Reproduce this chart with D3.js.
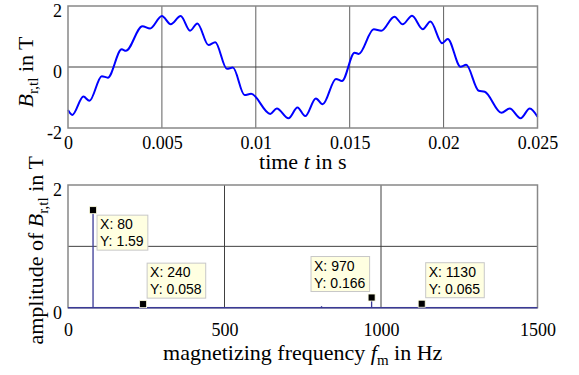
<!DOCTYPE html>
<html>
<head>
<meta charset="utf-8">
<script src="https://cdn.jsdelivr.net/npm/d3@7/dist/d3.min.js"></script>
<style>
  body { margin: 0; background: #fff; }
  svg text, svg .tick text { font-family: "Liberation Serif", "Times New Roman", serif !important; fill: #000; }
  svg .tip text { font-family: "Liberation Sans", Arial, sans-serif !important; }
</style>
</head>
<body>
<svg id="chart" width="579" height="375"></svg>
<script>
// waveform (time in s, flux density in T)
var timeS = [0, 0.00023, 0.00082, 0.00114, 0.0018, 0.00212, 0.00286, 0.00308, 0.00396, 0.00437,
  0.0050, 0.00547, 0.0060, 0.0065, 0.00689, 0.00748, 0.00784, 0.00846, 0.00878, 0.0094,
  0.00975, 0.01077, 0.01112, 0.01174, 0.01222, 0.01263, 0.0132, 0.01356, 0.01427, 0.01459,
  0.01526, 0.01548, 0.01628, 0.01668, 0.01738, 0.01782, 0.01832, 0.01889, 0.0193, 0.01992,
  0.02022, 0.0209, 0.0212, 0.02187, 0.02219, 0.02308, 0.02352, 0.0241, 0.02459, 0.025];
var fluxT = [-1.41, -1.57, -0.97, -1.11, -0.30, -0.35, 0.58, 0.53, 1.34, 1.26,
  1.67, 1.40, 1.67, 1.19, 1.43, 0.72, 0.81, -0.06, -0.02, -0.92,
  -0.88, -1.54, -1.36, -1.68, -1.33, -1.61, -1.03, -1.22, -0.39, -0.46,
  0.47, 0.43, 1.24, 1.19, 1.65, 1.40, 1.68, 1.24, 1.49, 0.78,
  0.92, 0.01, 0.07, -0.78, -0.81, -1.50, -1.36, -1.68, -1.36, -1.63];

var timeTicks = [0, 0.005, 0.01, 0.015, 0.02, 0.025];
var timeTickLabels = ["0", "0.005", "0.01", "0.015", "0.02", "0.025"];
var fluxTicks = [-2, 0, 2];
var fluxTickLabels = ["-2", "0", "2"];

// spectrum
var freqHz = [80, 240, 400, 810, 970, 1130];
var ampT = [1.59, 0.058, 0.01, 0.025, 0.166, 0.065];
var freqTicks = [0, 500, 1000, 1500];
var ampTicks = [0, 2];
var ampGrid = [1];

// data tips
var tipFreq = [80, 240, 970, 1130];
var tipAmp = [1.59, 0.058, 0.166, 0.065];
var tipAmpText = ["1.59", "0.058", "0.166", "0.065"];
var tipSide = ["right-below", "right-above", "left-above", "right-above"];

var svg = d3.select("#chart");
var left = 68, right = 537.5;
var serif = '"Liberation Serif", "Times New Roman", serif';

function styleTicks(ax, y, dy) {
  ax.select(".domain").remove();
  ax.attr("font-family", serif).attr("font-size", 18);
  var t = ax.selectAll("text").attr("font-size", 18);
  if (y != null) t.attr("y", y);
  t.attr("dy", dy);
}

// ---------- top plot ----------
var x1 = d3.scaleLinear().domain([0, 0.025]).range([left, right]);
var y1 = d3.scaleLinear().domain([-2, 2]).range([128, 6]);

var topG = svg.append("g");
topG.selectAll(".vgrid").data(timeTicks.slice(1, -1)).enter().append("line")
  .attr("x1", function(d) { return x1(d); }).attr("x2", function(d) { return x1(d); })
  .attr("y1", y1(2)).attr("y2", y1(-2))
  .attr("stroke", "#606060").attr("stroke-width", 1);
topG.append("line")
  .attr("x1", left).attr("x2", right).attr("y1", y1(0)).attr("y2", y1(0))
  .attr("stroke", "#404040").attr("stroke-width", 1);

var line = d3.line()
  .x(function(d, i) { return x1(timeS[i]); })
  .y(function(d) { return y1(d); })
  .curve(d3.curveMonotoneX);

topG.append("path")
  .attr("d", line(fluxT))
  .attr("fill", "none").attr("stroke", "#0000ff").attr("stroke-width", 2);

topG.append("rect")
  .attr("x", left).attr("y", y1(2)).attr("width", right - left).attr("height", y1(-2) - y1(2))
  .attr("fill", "none").attr("stroke", "#888").attr("stroke-width", 1.5);

var ax1 = topG.append("g").attr("transform", "translate(0," + y1(-2) + ")")
  .call(d3.axisBottom(x1).tickValues(timeTicks).tickSize(0).tickPadding(0)
    .tickFormat(function(d, i) { return timeTickLabels[i]; }));
styleTicks(ax1, 21, null);

var ay1 = topG.append("g").attr("transform", "translate(" + left + ",0)")
  .call(d3.axisLeft(y1).tickValues(fluxTicks).tickSize(0).tickPadding(6)
    .tickFormat(function(d, i) { return fluxTickLabels[i]; }));
styleTicks(ay1, null, "0.6em");

var xl1 = topG.append("text").attr("x", (left + right) / 2).attr("y", 169)
  .attr("text-anchor", "middle").attr("font-size", 22);
xl1.append("tspan").text("time ");
xl1.append("tspan").attr("font-style", "italic").text("t");
xl1.append("tspan").text(" in s");

var yl1 = topG.append("text").attr("transform", "translate(33," + (y1(0) + 5) + ") rotate(-90)")
  .attr("text-anchor", "middle").attr("font-size", 22);
yl1.append("tspan").attr("font-style", "italic").text("B");
yl1.append("tspan").attr("font-size", 15).attr("dy", 5).text("r,tl");
yl1.append("tspan").attr("dy", -5).text(" in T");

// ---------- bottom plot ----------
var x2 = d3.scaleLinear().domain([0, 1500]).range([left, right]);
var y2 = d3.scaleLinear().domain([0, 2]).range([307.7, 185]);

var bot = svg.append("g");
bot.selectAll(".vgrid").data(freqTicks.slice(1, -1)).enter().append("line")
  .attr("x1", function(d) { return x2(d); }).attr("x2", function(d) { return x2(d); })
  .attr("y1", y2(2)).attr("y2", y2(0))
  .attr("stroke", "#404040").attr("stroke-width", 1);
bot.selectAll(".hgrid").data(ampGrid).enter().append("line")
  .attr("x1", left).attr("x2", right)
  .attr("y1", function(d) { return y2(d); }).attr("y2", function(d) { return y2(d); })
  .attr("stroke", "#404040").attr("stroke-width", 1);

bot.append("rect")
  .attr("x", left).attr("y", y2(2)).attr("width", right - left).attr("height", y2(0) - y2(2))
  .attr("fill", "none").attr("stroke", "#888").attr("stroke-width", 1.5);

bot.append("line")
  .attr("x1", left).attr("x2", right).attr("y1", y2(0)).attr("y2", y2(0))
  .attr("stroke", "#3a3a96").attr("stroke-width", 1.5);

bot.selectAll(".stem").data(ampT).enter().append("line")
  .attr("x1", function(d, i) { return x2(freqHz[i]); })
  .attr("x2", function(d, i) { return x2(freqHz[i]); })
  .attr("y1", y2(0)).attr("y2", function(d) { return y2(d); })
  .attr("stroke", "#3a3a96").attr("stroke-width", 1.3);

var ax2 = bot.append("g").attr("transform", "translate(0," + y2(0) + ")")
  .call(d3.axisBottom(x2).tickValues(freqTicks).tickSize(0).tickPadding(0)
    .tickFormat(d3.format("d")));
styleTicks(ax2, 28, null);

var ay2 = bot.append("g").attr("transform", "translate(" + left + ",0)")
  .call(d3.axisLeft(y2).tickValues(ampTicks).tickSize(0).tickPadding(6)
    .tickFormat(d3.format("d")));
styleTicks(ay2, null, "0.6em");

var xl2 = bot.append("text").attr("x", (left + right) / 2).attr("y", 360)
  .attr("text-anchor", "middle").attr("font-size", 22);
xl2.append("tspan").text("magnetizing frequency ");
xl2.append("tspan").attr("font-style", "italic").text("f");
xl2.append("tspan").attr("font-size", 15).attr("dy", 5).text("m");
xl2.append("tspan").attr("dy", -5).text(" in Hz");

var yl2 = bot.append("text").attr("transform", "translate(43," + ((y2(0) + y2(2)) / 2 + 4) + ") rotate(-90)")
  .attr("text-anchor", "middle").attr("font-size", 22);
yl2.append("tspan").text("amplitude of ");
yl2.append("tspan").attr("font-style", "italic").text("B");
yl2.append("tspan").attr("font-size", 15).attr("dy", 5).text("r,tl");
yl2.append("tspan").attr("dy", -5).text(" in T");

// data tips
tipFreq.forEach(function(f, i) {
  var px = x2(f), py = y2(tipAmp[i]);
  var g = bot.append("g").attr("class", "tip");
  var t = g.append("text").attr("font-size", 14);
  t.append("tspan").attr("x", 0).attr("y", 0).text("X: " + f);
  t.append("tspan").attr("x", 0).attr("y", 17).text("Y: " + tipAmpText[i]);
  var w = t.node().getBBox().width + 7, h = 35;
  var bx = tipSide[i].indexOf("left") === 0 ? px - w - 2 : px + 4;
  var by = tipSide[i].indexOf("below") > 0 ? py + 5 : py - h - 6;
  g.insert("rect", "text")
    .attr("x", bx).attr("y", by).attr("width", w).attr("height", h)
    .attr("fill", "#ffffe1").attr("stroke", "#c8c8c8").attr("stroke-width", 1);
  t.attr("transform", "translate(" + (bx + 3) + "," + (by + 14) + ")");
  bot.append("rect")
    .attr("x", px - 3.5).attr("y", py - 3.5).attr("width", 7).attr("height", 7)
    .attr("fill", "#000").attr("stroke", "#ffffe1").attr("stroke-width", 0.8);
});
</script>
</body>
</html>
